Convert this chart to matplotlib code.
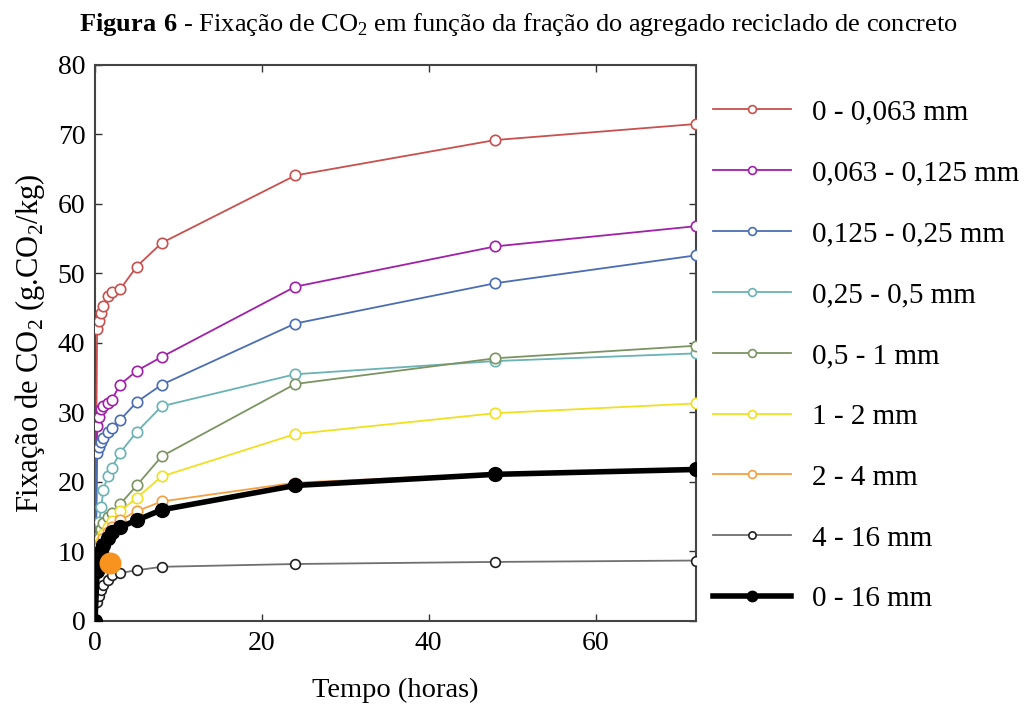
import matplotlib
matplotlib.use("Agg")
import matplotlib.pyplot as plt

plt.rcParams['font.family'] = ['Liberation Serif', 'DejaVu Serif']
plt.rcParams['mathtext.fontset'] = 'custom'
plt.rcParams['mathtext.rm'] = 'Liberation Serif'
plt.rcParams['mathtext.bf'] = 'Liberation Serif:bold'

# tempo (horas)
tempo = [0, 0.25, 0.5, 0.75, 1, 1.5, 2, 3, 5, 8, 24, 48, 72]

# fixação de CO2 (g CO2/kg) por fração
f_0_0063 = [0, 42.0, 43.1, 44.3, 45.3, 46.7, 47.4, 47.7, 51.0, 54.4, 64.1, 69.2, 71.5]
f_0063_0125 = [0, 28.0, 29.3, 30.5, 30.9, 31.3, 31.8, 34.0, 36.0, 38.0, 48.1, 53.9, 56.8]
f_0125_025 = [0, 24.2, 25.0, 25.7, 26.3, 27.2, 27.7, 28.9, 31.5, 34.0, 42.8, 48.6, 52.6]
f_025_05 = [0, 11.9, 14.3, 16.4, 18.8, 20.8, 22.0, 24.2, 27.2, 30.9, 35.5, 37.4, 38.5]
f_05_1 = [0, 10.5, 12.0, 13.2, 14.1, 15.0, 15.5, 16.8, 19.5, 23.7, 34.1, 37.8, 39.6]
f_1_2 = [0, 9.5, 10.5, 11.5, 12.5, 13.5, 14.4, 15.8, 17.7, 20.8, 26.9, 29.9, 31.3]
f_2_4 = [0, 9.0, 10.0, 11.0, 12.0, 12.8, 13.5, 14.5, 15.8, 17.2, 19.9, 21.2, 22.0]
f_4_16 = [0, 2.8, 3.6, 4.5, 5.2, 5.9, 6.6, 6.9, 7.3, 7.8, 8.2, 8.5, 8.7]
f_0_16 = [0, 7.2, 9.0, 10.0, 11.0, 12.0, 12.8, 13.5, 14.5, 16.0, 19.5, 21.1, 21.8]

# ponto isolado (laranja cheio)
ponto_t = [1.8]
ponto_v = [8.3]

rotulos = ['0 - 0,063 mm', '0,063 - 0,125 mm', '0,125 - 0,25 mm', '0,25 - 0,5 mm',
           '0,5 - 1 mm', '1 - 2 mm', '2 - 4 mm', '4 - 16 mm', '0 - 16 mm']
series = [f_0_0063, f_0063_0125, f_0125_025, f_025_05, f_05_1, f_1_2, f_2_4, f_4_16, f_0_16]
cores = ['#c8504e', '#a020a8', '#4a6db4', '#6ab2b4', '#7c9462', '#f0e020',
         '#f5a040', '#707070', '#000000']

fig = plt.figure(figsize=(10.26, 7.06), dpi=100)
ax = fig.add_axes([0.0926, 0.1204, 0.5854, 0.7876])

handles = []
for vals, cor, rot in zip(series, cores, rotulos):
    if rot == '0 - 16 mm':
        h, = ax.plot(tempo, vals, color=cor, lw=4, marker='o', ms=10,
                     mfc=cor, mec=cor, label=rot, zorder=5)
    elif rot == '4 - 16 mm':
        h, = ax.plot(tempo, vals, color=cor, lw=1.3, marker='o', ms=7,
                     mfc='white', mec='#202020', mew=1.2, label=rot, zorder=4)
    else:
        h, = ax.plot(tempo, vals, color=cor, lw=1.3, marker='o', ms=7.5,
                     mfc='white', mec=cor, mew=1.2, label=rot, zorder=3)
    handles.append(h)

ax.scatter(ponto_t, ponto_v, s=220, color='#f7931e', zorder=6)

ax.set_xlim(0, 72)
ax.set_ylim(0, 80)
ax.set_xticks([0, 20, 40, 60])
ax.set_yticks(range(0, 81, 10))
ax.tick_params(direction='in', top=True, right=True, length=5, width=1,
               labelsize=20, color='#333333', pad=7)
for s in ax.spines.values():
    s.set_color('#444444')
    s.set_linewidth(1.5)

ax.set_xlabel('Tempo (horas)', fontsize=20.5, labelpad=16)
ax.set_ylabel('Fixação de CO$_2$ (g.CO$_2$/kg)', fontsize=22, labelpad=8)

fig.text(0.505, 0.966, r'$\mathbf{Figura\ 6}$ - Fixação de CO$_2$ em função da fração do agregado reciclado de concreto',
         ha='center', va='center', fontsize=19)

leg = fig.legend(handles=handles, loc='upper left', bbox_to_anchor=(0.6696, 0.8966),
                 frameon=False, fontsize=21, handlelength=2.65, labelspacing=1.18,
                 handletextpad=0.75, markerscale=0.75)

fig.savefig('out.png', dpi=100)
